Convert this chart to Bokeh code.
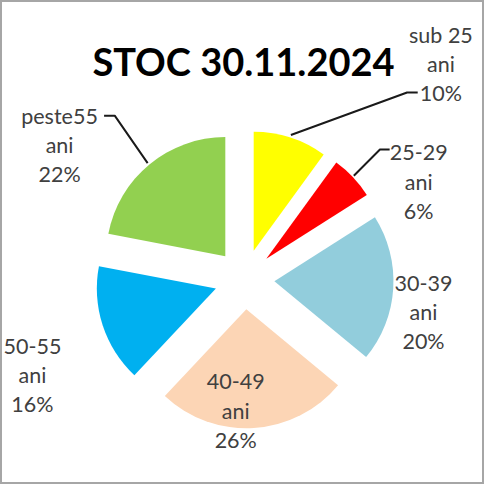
import numpy as np
from bokeh.plotting import figure
from bokeh.models import Range1d
from bokeh.core.properties import value
from bokeh.embed import file_html
from bokeh.resources import INLINE

# ---- data ----
title = "STOC 30.11.2024"
categories = ["sub 25", "25-29", "30-39", "40-49", "50-55", "peste55"]
unit = "ani"
values = [10, 6, 20, 26, 16, 22]
colors = ["#FFFF00", "#FF0000", "#92CDDC", "#FCD5B5", "#00B0F0", "#92D050"]

# ---- layout (reference pixel space 0..500, y measured downward from top) ----
W = 484
cx_pix, cy_pix = 252, 288
radius = 123
explode = 31
label_x = [455, 432, 437, 243, 33, 61]
label_base = [36, 157, 292, 394, 357, 119]
line_gap = 30
leaders = {
    0: [(300, 139), (420, 95), (431, 95)],
    1: [(365, 181), (392, 154), (402, 154)],
    5: [(152, 168), (118, 119), (107, 119)],
}


def Y(py):
    return 500 - py


p = figure(width=W, height=W, output_backend="svg", toolbar_location=None,
           x_range=Range1d(0, 500), y_range=Range1d(0, 500), min_border=0)
p.axis.visible = False
p.grid.visible = False
p.outline_line_color = "#A6A6A6"
p.outline_line_width = 3
p.background_fill_color = "white"

vals = np.array(values, dtype=float)
cum = np.concatenate([[0], np.cumsum(vals)]) / vals.sum() * 360.0
starts = 90 - cum[:-1]
ends = 90 - cum[1:]
mids = np.radians((cum[:-1] + cum[1:]) / 2)
xs = cx_pix + explode * np.sin(mids)
ys = Y(cy_pix) + explode * np.cos(mids)

p.wedge(x=xs, y=ys, radius=radius, start_angle=np.radians(starts),
        end_angle=np.radians(ends), direction="clock", fill_color=colors,
        line_color=None)

# leader lines
p.multi_line(xs=[[pt[0] for pt in pts] for pts in leaders.values()],
             ys=[[Y(pt[1]) for pt in pts] for pts in leaders.values()],
             line_color="#1a1a1a", line_width=2)

# labels
tx, ty, tt = [], [], []
for i, (c, v) in enumerate(zip(categories, values)):
    lines = [c, unit, f"{v}%"]
    for k, s in enumerate(lines):
        tx.append(label_x[i])
        ty.append(Y(label_base[i] + k * line_gap))
        tt.append(s)
p.text(x=tx, y=ty, text=tt, text_font=value("Lato"), text_font_size="21.5px",
       text_color="#404040", text_align="center", text_baseline="alphabetic")

# title
p.text(x=[251], y=[Y(63)], text=[title], text_font=value("Lato"),
       text_font_size="38px", text_font_style="bold", text_color="#000000",
       text_align="center", text_baseline="alphabetic")

open("out.html", "w").write(file_html(p, INLINE))
